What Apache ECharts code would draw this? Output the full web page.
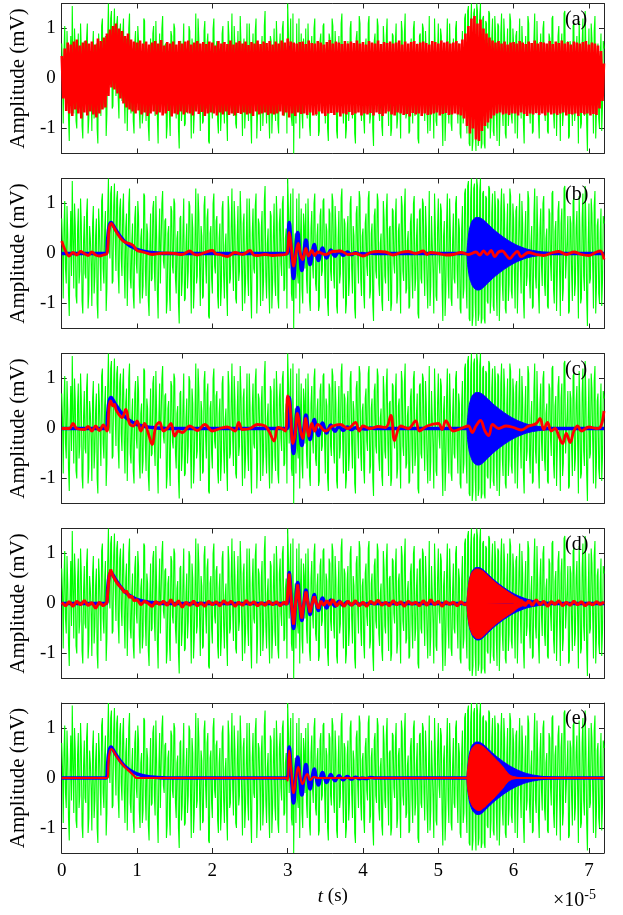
<!DOCTYPE html>
<html><head><meta charset="utf-8">
<script src="https://cdn.jsdelivr.net/npm/echarts@6/dist/echarts.min.js"></script>
<style>html,body{margin:0;padding:0;background:#fff}#c{width:623px;height:915px}</style>
</head><body><div id="c"></div>
<script>
// sample spacing of the dense traces (units of 1e-5 s)
const DT = 0.02;
const xTicks = [0,1,2,3,4,5,6,7];
const xTicksC = [1.6,3.2,4.8,6.4];
const yTicks = [-1,0,1];
const panelLabels = ['(a)','(b)','(c)','(d)','(e)'];

// noisy observation (green), same in every panel: samples at t = k*DT
const green = [
0.7,-0.9,1.05,-0.6,0.4,-1.25,0.85,1.45,-0.7,0.55,-1.0,0.9,-0.35,0.6,-1.2,0.75,-0.5,1.1,-0.8,0.3,
-1.05,0.95,-0.45,0.7,-1.3,0.5,-0.75,1.2,-0.6,0.85,-0.7,1.5,-0.1,1.35,-0.55,1.4,-0.35,1.25,-0.8,1.1,
-0.45,1.2,-0.9,0.8,-0.25,1.3,-0.7,0.6,-1.1,0.95,-0.4,0.75,-1.0,0.5,-0.65,1.15,-0.85,0.4,-1.25,0.8,
-0.5,1.05,-0.75,0.35,-1.3,0.9,-0.6,1.25,-0.3,0.7,-0.95,0.55,-1.15,0.85,-0.4,1.0,-0.8,0.45,-1.4,0.75,
-0.55,1.1,-0.9,0.6,-0.35,0.95,-1.2,0.5,-0.7,1.3,-0.45,0.8,-1.05,0.35,-0.85,1.15,-0.6,0.9,-1.3,0.55,
-0.8,1.2,-0.4,0.75,-1.1,0.6,-0.65,1.05,-0.9,0.4,-1.25,0.85,-0.5,1.3,-0.75,0.55,-1.0,0.95,-0.35,0.7,
-1.15,0.8,-0.6,1.1,-0.85,0.45,-1.3,0.9,-0.4,1.2,-0.7,0.6,-1.05,0.85,-0.55,1.35,-0.9,0.5,-1.2,0.75,
-0.6,1.0,-0.85,0.65,-1.1,0.9,-0.45,1.15,-0.7,0.5,1.5,-0.3,1.2,-0.95,-1.5,0.4,1.1,-0.6,-1.2,0.9,
-1.0,0.55,1.0,-0.8,0.4,-1.15,0.85,-0.5,1.2,-0.75,0.6,-1.05,0.9,-0.35,1.1,-0.9,0.45,-1.25,0.8,-0.55,
1.05,-0.7,0.5,-1.2,0.85,-0.4,1.3,-0.9,0.6,-1.0,0.75,-0.5,1.15,-0.8,0.35,-1.3,0.95,-0.6,1.1,-0.85,
0.5,-1.1,0.8,-0.45,1.25,-0.75,0.6,-1.35,0.9,-0.5,1.05,-0.85,0.4,-1.15,0.7,-0.6,1.2,-0.95,0.55,-1.0,
0.85,-0.4,1.1,-0.8,0.6,-1.2,0.95,-0.55,1.3,-0.7,0.45,-1.05,0.8,-0.9,1.15,-0.5,0.7,-1.3,0.9,-0.6,
1.0,-0.85,0.5,-1.1,1.25,-0.65,0.75,-1.2,0.55,-0.95,1.1,-0.4,0.85,-1.35,0.65,-0.75,1.2,-0.9,0.45,-1.05,
0.8,-0.6,1.15,-0.9,0.5,-1.2,0.95,-0.7,1.3,-1.1,1.45,-1.35,1.5,-1.25,1.4,-1.45,1.35,-1.2,1.5,-1.3,
1.25,-1.4,1.1,-1.0,1.3,-0.85,1.2,-1.15,0.9,-1.25,1.05,-0.7,1.3,-0.95,0.8,-1.2,1.0,-0.6,1.15,-0.9,
0.7,-1.1,0.95,-0.5,1.2,-0.8,0.6,-1.3,0.85,-0.45,1.1,-0.9,0.55,-1.05,1.3,-0.7,0.4,-1.2,0.9,-0.65,
1.15,-0.85,0.5,-1.1,0.8,-0.55,1.25,-1.0,0.65,-0.4,1.05,-1.25,0.9,-0.7,1.35,-0.5,0.75,-1.15,0.6,-0.95,
1.1,-0.6,0.85,-1.3,0.45,-0.9,1.2,-0.75,0.55,-1.45,1.0,-0.5,0.8,-1.1,1.25,-0.65,0.7,-1.0,0.9,-0.55,
0.6];
// green samples in between: t = k*DT + DT/2
const greenMid = [
0.2,0.5,-0.3,0.95,-0.8,0.1,-0.45,0.3,1.0,-0.85,0.45,-0.6,1.1,-0.95,0.25,-0.4,0.8,-1.1,0.55,-0.2,
0.6,-0.8,0.35,-1.0,0.9,-0.15,1.05,-0.3,0.45,-1.15,0.8,0.2,1.2,-0.6,0.95,0.3,1.1,-0.4,0.9,-0.1,
0.85,-0.3,0.5,-1.05,1.0,-0.5,0.2,-0.85,0.7,-0.2,1.05,-0.65,0.3,-0.9,1.2,-0.35,0.6,-0.95,0.15,-0.55,
0.9,-0.35,1.15,-0.8,0.25,-0.6,1.0,-0.15,0.65,-1.2,0.4,-0.75,0.95,-0.25,1.1,-0.5,0.3,-1.0,0.7,-0.85,
0.45,-0.95,0.2,-0.7,1.05,-0.4,0.8,-1.1,0.35,-0.6,1.2,-0.3,0.55,-0.9,0.95,-0.15,0.7,-1.25,0.4,-0.5,
1.0,-0.25,0.65,-0.85,0.3,-1.05,0.9,-0.45,0.15,-0.75,1.15,-0.6,0.5,-0.2,1.05,-0.9,0.35,-0.55,1.25,-0.4,
0.6,-1.0,0.25,-0.5,1.1,-0.8,0.4,-0.3,0.95,-1.2,0.7,-0.15,0.5,-0.95,1.05,-0.45,0.2,-0.7,0.85,-1.1,
0.35,-0.55,1.15,-0.9,0.6,-0.2,1.0,-0.75,0.3,-1.1,0.9,0.6,-0.8,1.3,0.2,-0.9,-0.4,1.2,0.3,-0.7,
0.8,-0.3,-0.5,1.1,-0.95,0.5,-0.2,1.0,-0.6,0.35,-1.15,0.75,-0.45,1.05,-0.25,0.6,-1.0,0.9,-0.35,1.2,
-0.4,0.95,-1.05,0.3,-0.6,1.1,-0.2,0.7,-1.2,0.45,-0.85,1.0,-0.3,0.55,-1.1,0.8,-0.15,1.25,-0.5,0.35,
-0.8,0.6,-0.25,1.1,-0.9,0.4,-1.0,0.75,-0.35,1.2,-0.6,0.2,-0.95,1.05,-0.45,0.85,-0.3,0.5,-1.15,0.9,
-0.2,0.7,-1.0,0.45,-0.55,1.15,-0.35,0.9,-0.8,0.25,-1.1,0.6,-0.4,1.0,-0.75,0.3,-1.2,0.85,-0.5,1.1,
-0.3,0.95,-0.6,0.2,-1.05,0.75,-0.4,1.2,-0.85,0.5,-0.15,1.0,-0.7,0.35,-1.25,0.6,-0.45,1.1,-0.9,0.25,
-0.5,1.0,-0.35,0.7,-1.1,0.45,-0.9,1.2,-0.6,1.35,-1.3,1.1,-1.45,1.3,-1.0,1.5,-1.35,1.25,-1.4,1.2,
-1.3,1.15,-0.95,1.35,-1.2,0.8,-1.05,1.25,-0.7,1.1,-1.35,0.9,-0.6,1.2,-1.1,0.5,-0.95,1.3,-0.75,1.0,
-0.4,0.85,-1.2,0.6,-0.3,1.05,-0.9,0.35,-0.65,1.25,-0.5,0.2,-1.1,0.8,-0.45,1.15,-0.8,0.5,-0.25,1.0,
-0.6,0.3,-1.05,0.9,-0.2,1.2,-0.7,0.45,-1.15,0.85,-0.35,0.6,-0.95,1.3,-0.5,0.25,-1.2,0.75,-0.4,1.05,
-0.85,0.5,-0.3,1.15,-1.0,0.7,-0.45,1.35,-0.9,0.2,-0.6,1.1,-0.25,0.95,-1.2,0.55,-0.8,0.4,-1.05,0.75];

// panel (a) red reconstruction (dense oscillation), t = k*DT
const redA = [
0.45,-0.4,0.6,-0.65,0.72,-0.7,0.68,-0.75,0.74,-0.62,0.78,-0.7,0.66,-0.8,0.72,-0.68,0.76,-0.74,0.7,-0.66,
0.74,-0.72,0.68,-0.78,0.8,-0.7,0.75,-0.62,0.82,-0.58,0.9,-0.35,0.98,-0.18,1.05,-0.22,1.1,-0.3,1.0,-0.4,
0.95,-0.5,0.85,-0.58,0.9,-0.62,0.78,-0.66,0.74,-0.7,0.72,-0.64,0.76,-0.72,0.7,-0.68,0.74,-0.75,0.68,-0.7,
0.72,-0.66,0.75,-0.72,0.7,-0.68,0.77,-0.74,0.66,-0.7,0.73,-0.65,0.7,-0.76,0.74,-0.7,0.68,-0.72,0.75,-0.66,
0.7,-0.72,0.74,-0.68,0.76,-0.7,0.68,-0.74,0.72,-0.66,0.75,-0.71,0.7,-0.67,0.73,-0.75,0.69,-0.7,0.74,-0.68,
0.72,-0.7,0.66,-0.74,0.75,-0.68,0.7,-0.72,0.73,-0.66,0.69,-0.73,0.76,-0.7,0.68,-0.74,0.72,-0.69,0.75,-0.71,
0.7,-0.68,0.74,-0.72,0.67,-0.7,0.73,-0.75,0.7,-0.66,0.76,-0.72,0.69,-0.7,0.74,-0.68,0.71,-0.73,0.75,-0.7,
0.68,-0.72,0.74,-0.7,0.7,-0.66,0.76,-0.74,0.72,-0.68,0.8,-0.78,0.74,-0.7,0.72,-0.75,0.7,-0.68,0.73,-0.71,
0.74,-0.7,0.69,-0.73,0.76,-0.68,0.71,-0.74,0.7,-0.72,0.75,-0.66,0.72,-0.7,0.68,-0.75,0.73,-0.7,0.77,-0.69,
0.7,-0.73,0.74,-0.68,0.72,-0.76,0.69,-0.7,0.75,-0.72,0.7,-0.67,0.74,-0.73,0.71,-0.7,0.76,-0.68,0.7,-0.74,
0.73,-0.7,0.68,-0.72,0.75,-0.69,0.72,-0.74,0.7,-0.68,0.76,-0.71,0.69,-0.75,0.73,-0.7,0.71,-0.66,0.74,-0.72,
0.7,-0.74,0.72,-0.68,0.76,-0.7,0.68,-0.73,0.74,-0.71,0.7,-0.76,0.73,-0.69,0.75,-0.72,0.69,-0.7,0.72,-0.75,
0.74,-0.7,0.71,-0.73,0.68,-0.72,0.75,-0.7,0.73,-0.68,0.7,-0.74,0.76,-0.71,0.72,-0.69,0.74,-0.73,0.7,-0.72,
0.72,-0.7,0.75,-0.72,0.7,-0.74,0.78,-0.8,0.9,-0.95,1.05,-1.1,1.2,-1.0,1.25,-1.22,1.1,-1.25,1.18,-1.05,
1.0,-0.95,0.9,-0.88,0.82,-0.8,0.76,-0.74,0.72,-0.7,0.75,-0.68,0.7,-0.72,0.74,-0.7,0.68,-0.73,0.72,-0.7,
0.73,-0.7,0.7,-0.74,0.75,-0.68,0.72,-0.71,0.69,-0.75,0.74,-0.7,0.71,-0.72,0.76,-0.69,0.7,-0.73,0.73,-0.7,
0.72,-0.74,0.7,-0.68,0.75,-0.72,0.69,-0.7,0.74,-0.73,0.71,-0.7,0.76,-0.68,0.7,-0.74,0.73,-0.71,0.68,-0.72,
0.74,-0.7,0.72,-0.75,0.7,-0.69,0.73,-0.72,0.75,-0.7,0.68,-0.74,0.72,-0.71,0.7,-0.73,0.66,-0.6,0.55,-0.45,
0.3];

// clean signal (blue): pulse + damped oscillation, flat elsewhere
const blueClean = [[0,0],[0.59,0],[0.61,0.3],[0.63,0.55],[0.655,0.62],[0.68,0.57],[0.72,0.47],[0.76,0.38],[0.8,0.3],[0.85,0.22],[0.9,0.16],[0.95,0.12],[1.0,0.08],[1.1,0.04],[1.2,0.02],[1.4,0],
[2.995,0],[3.02,0.62],[3.05,0],[3.078,-0.5],[3.105,0],[3.133,0.42],[3.16,0],[3.188,-0.34],[3.215,0],[3.243,0.27],[3.27,0],[3.298,-0.22],[3.325,0],[3.353,0.18],[3.38,0],[3.408,-0.14],[3.435,0],[3.463,0.11],[3.49,0],[3.518,-0.09],[3.545,0],[3.573,0.07],[3.6,0],[3.628,-0.055],[3.655,0],[3.683,0.045],[3.71,0],[3.738,-0.035],[3.765,0],[3.793,0.028],[3.82,0],[3.848,-0.022],[3.875,0],[3.903,0.017],[3.93,0],[3.958,-0.013],[3.985,0],[4.04,-0.01],[4.1,0.008],[4.16,0],[7.2,0]];
// high-frequency burst of clean signal: upper / lower envelopes
const blueBurstUp = [[5.38,0],[5.40,0.35],[5.43,0.58],[5.47,0.69],[5.52,0.72],[5.58,0.69],[5.65,0.6],[5.72,0.5],[5.8,0.4],[5.9,0.29],[6.0,0.2],[6.1,0.13],[6.2,0.08],[6.3,0.05],[6.4,0.03],[6.6,0.012],[6.8,0]];
const blueBurstLo = [[5.38,0],[5.40,-0.35],[5.44,-0.6],[5.49,-0.71],[5.53,-0.73],[5.58,-0.7],[5.65,-0.6],[5.72,-0.5],[5.8,-0.4],[5.9,-0.29],[6.0,-0.2],[6.1,-0.13],[6.2,-0.08],[6.3,-0.05],[6.4,-0.03],[6.6,-0.012],[6.8,0]];

// red reconstructions (b)-(e)
const redB = [[0,0.25],[0.05,0.05],[0.1,-0.05],[0.15,0.02],[0.2,-0.03],[0.25,0.04],[0.3,0.0],[0.35,-0.04],[0.4,0.03],[0.45,-0.03],[0.5,-0.05],[0.55,-0.03],[0.6,0.0],[0.63,0.5],[0.66,0.6],[0.7,0.5],[0.75,0.37],[0.8,0.27],[0.85,0.22],[0.9,0.2],[0.95,0.16],[1.0,0.06],[1.05,0.04],[1.1,0.02],[1.2,-0.02],[1.3,0.0],[1.4,0.01],[1.5,0.0],[1.6,-0.02],[1.7,0.05],[1.75,-0.01],[1.8,-0.03],[1.9,0.02],[2.0,0.06],[2.05,-0.01],[2.1,-0.02],[2.2,-0.06],[2.3,0.02],[2.4,-0.02],[2.5,0.06],[2.55,-0.03],[2.6,-0.04],[2.7,-0.02],[2.8,-0.04],[2.9,-0.03],[2.97,-0.02],[3.0,0.05],[3.02,0.42],[3.05,0.1],[3.08,-0.25],[3.11,0.0],[3.14,0.2],[3.17,-0.02],[3.2,-0.12],[3.24,0.1],[3.28,-0.05],[3.32,0.06],[3.36,-0.04],[3.4,0.03],[3.5,-0.02],[3.6,0.04],[3.7,0.05],[3.75,0.02],[3.8,-0.02],[3.9,0.0],[4.0,-0.05],[4.1,0.02],[4.2,0.04],[4.3,0.03],[4.4,-0.03],[4.5,0.02],[4.6,0.04],[4.7,0.0],[4.8,0.05],[4.85,-0.02],[4.9,0.02],[5.0,0.0],[5.1,-0.03],[5.2,-0.02],[5.3,0.02],[5.4,-0.02],[5.5,0.03],[5.55,-0.03],[5.6,0.05],[5.65,-0.02],[5.7,0.06],[5.75,-0.06],[5.8,0.03],[5.85,0.05],[5.9,-0.03],[5.95,-0.1],[6.0,-0.02],[6.05,0.04],[6.1,-0.06],[6.2,0.02],[6.3,-0.02],[6.4,-0.04],[6.5,0.01],[6.6,0.04],[6.7,-0.02],[6.8,0.03],[6.9,-0.02],[7.0,-0.04],[7.1,0.03],[7.15,0.05],[7.2,-0.12]];

const redC = [[0,0.0],[0.1,0.0],[0.15,0.1],[0.2,0.0],[0.3,-0.02],[0.35,0.04],[0.4,-0.05],[0.45,0.05],[0.5,-0.04],[0.55,0.07],[0.6,-0.05],[0.63,0.45],[0.65,0.55],[0.68,0.45],[0.7,0.48],[0.72,0.38],[0.75,0.3],[0.8,0.22],[0.85,0.38],[0.9,0.1],[0.95,0.05],[1.0,0.15],[1.05,-0.05],[1.1,0.1],[1.15,-0.1],[1.2,-0.32],[1.25,0.05],[1.3,0.12],[1.35,-0.05],[1.4,0.0],[1.45,0.1],[1.5,-0.15],[1.55,-0.05],[1.6,-0.08],[1.7,0.05],[1.8,-0.04],[1.9,0.08],[2.0,-0.05],[2.1,0.0],[2.2,0.03],[2.3,-0.05],[2.35,0.12],[2.4,-0.02],[2.5,0.0],[2.6,0.08],[2.7,0.05],[2.75,-0.05],[2.82,-0.25],[2.87,0.02],[2.92,0.0],[2.97,-0.05],[3.0,0.65],[3.03,0.45],[3.07,-0.3],[3.1,-0.1],[3.13,0.3],[3.17,-0.05],[3.2,-0.2],[3.24,0.2],[3.28,-0.15],[3.32,0.1],[3.36,-0.05],[3.4,0.08],[3.5,-0.05],[3.6,0.05],[3.7,0.08],[3.8,0.0],[3.9,0.12],[3.95,-0.05],[4.0,0.05],[4.1,0.0],[4.2,0.04],[4.3,0.02],[4.37,0.26],[4.42,-0.24],[4.5,0.05],[4.6,0.0],[4.7,0.15],[4.75,-0.05],[4.85,0.05],[5.0,0.1],[5.05,-0.02],[5.1,0.15],[5.2,-0.05],[5.3,0.0],[5.4,0.05],[5.45,-0.08],[5.5,0.05],[5.56,0.16],[5.62,-0.05],[5.67,-0.14],[5.72,0.08],[5.8,0.0],[5.9,0.05],[6.0,0.02],[6.1,-0.03],[6.2,0.05],[6.3,0.1],[6.35,0.2],[6.4,-0.02],[6.45,0.12],[6.5,-0.05],[6.55,0.0],[6.6,-0.15],[6.65,-0.3],[6.7,-0.1],[6.75,-0.28],[6.8,-0.05],[6.85,0.05],[6.9,-0.05],[7.0,0.03],[7.1,0.0],[7.15,0.02],[7.2,0.35]];

const redD = [[0,0.02],[0.05,-0.05],[0.1,0.04],[0.15,-0.06],[0.2,0.05],[0.25,-0.03],[0.3,0.06],[0.35,-0.04],[0.4,0.02],[0.45,-0.1],[0.5,0.03],[0.55,-0.05],[0.6,0.02],[0.63,0.55],[0.65,0.68],[0.68,0.55],[0.7,0.52],[0.73,0.42],[0.76,0.36],[0.8,0.3],[0.83,0.22],[0.86,0.25],[0.9,0.12],[0.93,0.15],[0.96,0.05],[1.0,0.08],[1.05,-0.03],[1.1,0.05],[1.15,0.0],[1.2,-0.06],[1.25,0.04],[1.3,-0.02],[1.35,0.05],[1.4,-0.04],[1.45,0.08],[1.5,-0.05],[1.55,0.06],[1.6,-0.08],[1.65,0.03],[1.7,-0.04],[1.75,0.05],[1.8,-0.05],[1.85,0.02],[1.9,-0.06],[1.95,0.05],[2.0,-0.03],[2.05,0.04],[2.1,-0.05],[2.15,0.06],[2.2,-0.02],[2.25,0.05],[2.3,-0.06],[2.35,0.03],[2.4,-0.04],[2.45,0.06],[2.5,-0.03],[2.55,0.04],[2.6,-0.05],[2.65,0.02],[2.7,-0.04],[2.75,0.05],[2.8,-0.03],[2.85,0.04],[2.9,-0.05],[2.95,0.03],[2.99,-0.02],[3.02,0.6],[3.05,0.0],[3.078,-0.42],[3.105,0.0],[3.133,0.38],[3.16,0.0],[3.188,-0.3],[3.215,0.0],[3.243,0.24],[3.27,0.0],[3.298,-0.18],[3.325,0.0],[3.353,0.14],[3.38,0.0],[3.408,-0.1],[3.44,0.05],[3.48,-0.04],[3.52,0.06],[3.56,-0.03],[3.6,0.08],[3.65,-0.05],[3.7,0.04],[3.75,-0.06],[3.8,0.05],[3.85,-0.04],[3.9,0.06],[3.95,-0.05],[4.0,0.03],[4.05,-0.06],[4.1,0.05],[4.15,-0.02],[4.2,0.07],[4.25,-0.04],[4.3,0.03],[4.35,-0.05],[4.4,0.06],[4.45,-0.03],[4.5,0.04],[4.55,-0.06],[4.6,0.05],[4.65,-0.02],[4.7,0.03],[4.75,-0.05],[4.8,0.06],[4.85,-0.04],[4.9,0.08],[4.95,-0.03],[5.0,0.05],[5.05,-0.06],[5.1,0.04],[5.15,-0.02],[5.2,0.03],[5.25,-0.05],[5.3,0.04],[5.35,-0.03],[5.38,0.0],[6.0,0.05],[6.05,-0.06],[6.1,0.07],[6.15,-0.05],[6.2,0.06],[6.25,-0.04],[6.3,0.08],[6.35,-0.03],[6.4,0.05],[6.45,-0.06],[6.5,0.04],[6.55,-0.02],[6.6,0.06],[6.65,-0.05],[6.7,0.03],[6.75,-0.04],[6.8,0.05],[6.85,-0.03],[6.9,0.04],[6.95,-0.05],[7.0,0.02],[7.05,-0.03],[7.1,0.04],[7.15,-0.02],[7.2,0.03]];
const redDBurstUp = [[5.38,0],[5.40,0.33],[5.43,0.56],[5.47,0.66],[5.52,0.69],[5.58,0.66],[5.65,0.57],[5.72,0.47],[5.8,0.37],[5.9,0.26],[6.0,0.16],[6.05,0.12],[6.1,0.07],[6.15,0.03],[6.2,0]];
const redDBurstLo = [[5.38,0],[5.40,-0.33],[5.44,-0.57],[5.49,-0.68],[5.53,-0.7],[5.58,-0.67],[5.65,-0.57],[5.72,-0.47],[5.8,-0.37],[5.9,-0.26],[6.0,-0.16],[6.05,-0.1],[6.1,-0.06],[6.15,-0.03],[6.2,0]];

const redE = [[0,0],[0.6,0],[0.63,0.45],[0.66,0.58],[0.7,0.5],[0.75,0.38],[0.8,0.28],[0.85,0.2],[0.9,0.13],[0.95,0.06],[1.0,0.0],[2.98,0],[3.0,-0.05],[3.02,0.55],[3.05,0.1],[3.08,-0.3],[3.11,0.0],[3.14,0.22],[3.17,0],[3.2,-0.12],[3.23,0],[3.26,0.08],[3.3,-0.04],[3.35,0.02],[3.4,0],[7.2,0]];
const redEBurstUp = [[5.38,0],[5.40,0.3],[5.43,0.52],[5.47,0.63],[5.52,0.67],[5.58,0.64],[5.65,0.55],[5.72,0.44],[5.8,0.32],[5.86,0.22],[5.91,0.12],[5.95,0.06],[6.0,0.03],[6.1,0]];
const redEBurstLo = [[5.38,0],[5.40,-0.3],[5.44,-0.52],[5.49,-0.62],[5.54,-0.65],[5.6,-0.6],[5.67,-0.5],[5.74,-0.4],[5.8,-0.3],[5.86,-0.2],[5.91,-0.1],[5.95,-0.05],[6.0,-0.02],[6.1,0]];

// ---------- build chart ----------
const FONT = '"Liberation Serif","DejaVu Serif",serif';
const AX = '#262626';
const tops = [3.5, 178.5, 353.5, 528.5, 703];
const H = 150, LEFT = 61, RIGHT = 19;
const dense = arr => arr.map((v,i)=>[+(i*DT).toFixed(3), v]);
const greenPts = [];
green.forEach((v,i)=>{
  greenPts.push([+(i*DT).toFixed(3), v]);
  if (i < greenMid.length) greenPts.push([+(i*DT + DT/2).toFixed(3), greenMid[i]]);
});

const grid = [], xAxis = [], yAxis = [], series = [], graphic = [];
tops.forEach((t,i)=>{
  grid.push({left:LEFT, right:RIGHT, top:t, height:H});
  const xt = i===2 ? xTicksC : xTicks;
  const base = {gridIndex:i, type:'value', min:0, max:7.2,
    axisLine:{show:true, onZero:false, lineStyle:{color:AX, width:1}},
    axisTick:{show:true, inside:true, length:5, customValues:xt, lineStyle:{color:AX}},
    splitLine:{show:false}};
  xAxis.push(Object.assign({}, base, {position:'bottom',
    axisLabel:{show:i===4, customValues:xTicks, color:'#000', fontFamily:FONT, fontSize:19, margin:9},
    name: i===4 ? '{i|t} (s)' : '', nameLocation:'middle', nameGap:34,
    nameTextStyle:{color:'#000', fontFamily:FONT, fontSize:19, rich:{i:{fontStyle:'italic', fontFamily:FONT, fontSize:19, color:'#000'}}}}));
  xAxis.push(Object.assign({}, base, {position:'top', axisLabel:{show:false}}));
  const ybase = {gridIndex:i, type:'value', min:-1.5, max:1.5,
    axisLine:{show:true, onZero:false, lineStyle:{color:AX, width:1}},
    axisTick:{show:true, inside:true, length:5, customValues:yTicks, lineStyle:{color:AX}},
    splitLine:{show:false}};
  yAxis.push(Object.assign({}, ybase, {position:'left',
    axisLabel:{show:true, customValues:yTicks, color:'#000', fontFamily:FONT, fontSize:19, margin:6},
    name:'Amplitude (mV)', nameLocation:'middle', nameRotate:90, nameGap:27,
    nameTextStyle:{color:'#000', fontFamily:FONT, fontSize:21}}));
  yAxis.push(Object.assign({}, ybase, {position:'right', axisLabel:{show:false}}));
  graphic.push({type:'text', left:565, top:t+6, z:100,
    style:{text:panelLabels[i], font:'20px '+FONT, fill:'#000'}});
});
const xi = i => i*2, yi = i => i*2;
function line(i, data, color, width, z, smooth){
  series.push({type:'line', xAxisIndex:xi(i), yAxisIndex:yi(i), data, showSymbol:false, symbol:'none',
    smooth:smooth||false, z, animation:false, silent:true, sampling:null,
    lineStyle:{color, width}});
}
function band(i, data, color, z){
  series.push({type:'line', xAxisIndex:xi(i), yAxisIndex:yi(i), data, showSymbol:false, symbol:'none',
    smooth:true, z, animation:false, silent:true,
    lineStyle:{color, width:1}, areaStyle:{color, opacity:1, origin:0}});
}
const G = '#00ff00', B = '#0000ff', R = '#ff0000';
for (let i=0;i<5;i++){
  line(i, greenPts, G, 1.1, 1);
  line(i, blueClean, B, 3.5, 2, true);
  band(i, blueBurstUp, B, 2);
  band(i, blueBurstLo, B, 2);
}
line(0, dense(redA), R, 2.6, 3);
line(1, redB, R, 2.8, 3, 0.4);
line(2, redC, R, 2.8, 3, 0.4);
line(3, redD, R, 3, 3);
band(3, redDBurstUp, R, 3);
band(3, redDBurstLo, R, 3);
line(4, redE, R, 2.2, 3, true);
band(4, redEBurstUp, R, 3);
band(4, redEBurstLo, R, 3);

graphic.push({type:'text', left:553, top:888, z:100,
  style:{text:'×10{s|-5}', font:'20px '+FONT, fill:'#000',
    rich:{s:{fontSize:14, fontFamily:FONT, verticalAlign:'top', padding:[0,0,12,0]}}}});

const chart = echarts.init(document.getElementById('c'), null, {renderer:'canvas'});
chart.setOption({animation:false, backgroundColor:'#fff', grid, xAxis, yAxis, series, graphic});
</script></body></html>
